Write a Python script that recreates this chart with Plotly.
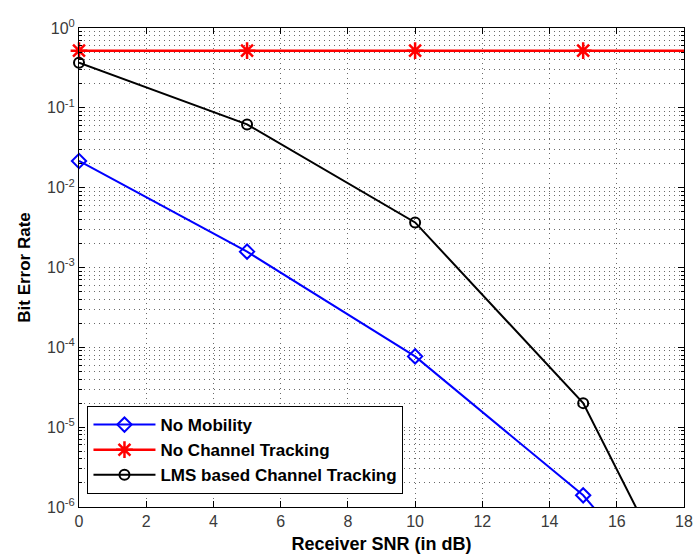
import plotly.graph_objects as go

snr = [0, 5, 10, 15, 20]
ber_no_mobility = [2.16e-2, 1.58e-3, 7.7e-5, 1.4e-6, 5e-9]
ber_no_tracking = [0.52, 0.52, 0.52, 0.52, 0.52]
ber_lms = [0.368, 0.062, 3.67e-3, 2.0e-5, 1.4e-9]

series_names = ["No Mobility", "No Channel Tracking", "LMS based Channel Tracking"]

x_ticks = list(range(0, 19, 2))
y_tickvals = [1e-6, 1e-5, 1e-4, 1e-3, 1e-2, 1e-1, 1e0]
y_ticktext = ["10<sup>-6</sup>", "10<sup>-5</sup>", "10<sup>-4</sup>", "10<sup>-3</sup>",
              "10<sup>-2</sup>", "10<sup>-1</sup>", "10<sup>0</sup>"]

fig = go.Figure()
fig.add_trace(go.Scatter(x=snr, y=ber_no_mobility, name=series_names[0], mode="lines+markers",
                         line=dict(color="#0000ff", width=2),
                         marker=dict(symbol="diamond-open", size=11, color="#0000ff", line=dict(width=2)),
                         cliponaxis=False))
fig.add_trace(go.Scatter(x=snr, y=ber_no_tracking, name=series_names[1], mode="lines+markers",
                         line=dict(color="#ff0000", width=2.5),
                         marker=dict(symbol="asterisk-open", size=14, color="#ff0000", line=dict(width=2.5, color="#ff0000")),
                         cliponaxis=False))
fig.add_trace(go.Scatter(x=snr, y=ber_lms, name=series_names[2], mode="lines+markers",
                         line=dict(color="#000000", width=2),
                         marker=dict(symbol="circle-open", size=10, color="#000000", line=dict(width=2)),
                         cliponaxis=False))

GRID_DASH = "1px,4px"
GRID_COLOR = "#6a6a6a"

axis_common = dict(showline=True, linecolor="black", linewidth=1, mirror="ticks",
                   ticks="inside", ticklen=6, tickcolor="black",
                   showgrid=True, gridcolor=GRID_COLOR, griddash=GRID_DASH, gridwidth=1,
                   zeroline=False, automargin=False,
                   tickfont=dict(family="Liberation Sans, Arial", size=16, color="#3a3a3a"))

fig.update_xaxes(range=[0, 18], tickvals=x_ticks,
                 title=dict(text="<b>Receiver SNR (in dB)</b>", standoff=8,
                            font=dict(family="Liberation Sans, Arial", size=18, color="black")),
                 **axis_common)
fig.update_yaxes(type="log", range=[-6, 0], tickvals=y_tickvals, ticktext=y_ticktext,
                 title=dict(text="<b>Bit Error Rate</b>", standoff=12,
                            font=dict(family="Liberation Sans, Arial", size=17, color="black")),
                 minor=dict(dtick="D1", showgrid=True, gridcolor=GRID_COLOR, griddash=GRID_DASH,
                            gridwidth=1, ticks="inside", ticklen=3, tickcolor="black"),
                 **axis_common)

fig.update_layout(
    width=696, height=558,
    margin=dict(l=79, r=12, t=28, b=51),
    paper_bgcolor="white", plot_bgcolor="white",
    showlegend=True,
    legend=dict(x=0.014, y=0.027, xanchor="left", yanchor="bottom",
                bgcolor="white", bordercolor="black", borderwidth=1,
                font=dict(family="Liberation Sans, Arial", size=17, color="black"),
                tracegroupgap=0, itemwidth=62),
)
fig.for_each_trace(lambda t: t.update(name="<b>" + t.name + "</b>"))

fig.write_html("out.html", config={"displayModeBar": False},
               post_script="document.body.style.margin='0';document.body.style.padding='0';")
